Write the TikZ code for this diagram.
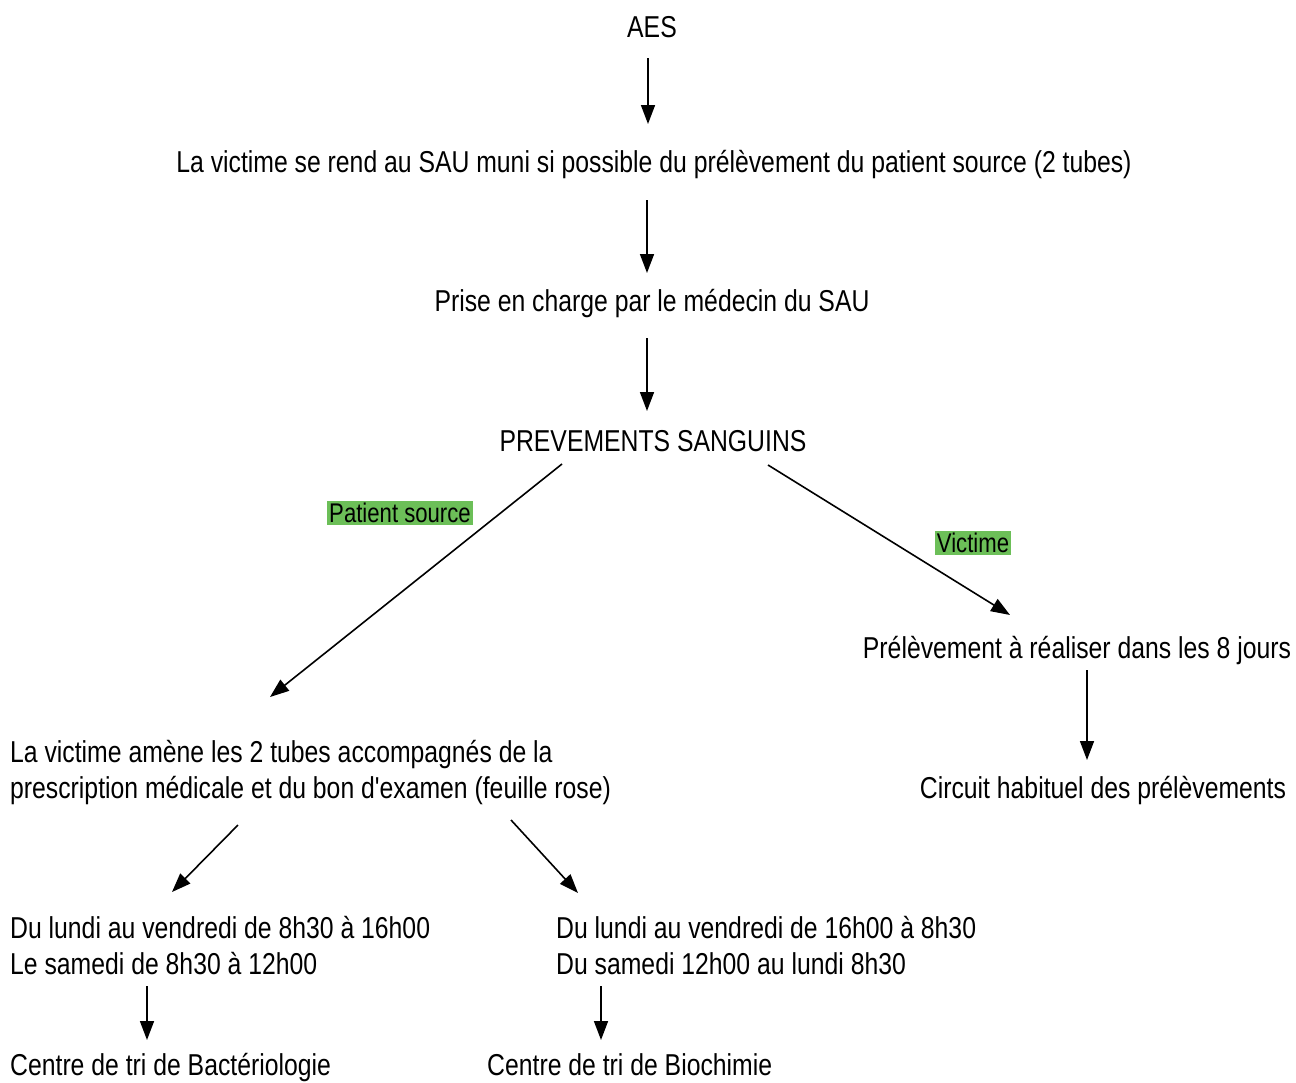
\documentclass[tikz,border=0pt]{standalone}
\usepackage{fontspec}
\setmainfont[FakeStretch=0.82,Ligatures=TeXOff]{Liberation Sans}
\usetikzlibrary{arrows.meta}
\definecolor{hl}{HTML}{6CBF58}
\tikzset{
  txt/.style={inner sep=0pt, font=\fontsize{30.2}{36}\selectfont, anchor=center},
  ltxt/.style={txt, anchor=west, align=left},
  btxt/.style={txt, anchor=base west},
  tag/.style={fill=hl, inner sep=2pt, font=\fontsize{27}{30}\selectfont},
  arr/.style={line width=1.6pt, -{Triangle[length=19pt,width=14pt]}},
}
\begin{document}
\begin{tikzpicture}[x=1pt,y=-1pt]
\useasboundingbox (0,0) rectangle (1296,1082);
\fill[white] (0,0) rectangle (1296,1082);
\node[txt] (aes) at (652,27) {AES};
\node[txt] (vic) at (654,165) {La victime se rend au SAU muni si possible du prélèvement du patient source (2 tubes)};
\node[txt] (prise) at (652,304) {Prise en charge par le médecin du SAU};
\node[txt] (prev) at (653,441) {PREVEMENTS SANGUINS};
\node[tag] (tps) at (400,513) {Patient source};
\node[tag] (tvi) at (973,543) {Victime};
\node[txt] (p8) at (1077,651) {Prélèvement à réaliser dans les 8 jours};
\node[txt] (circ) at (1103,791) {Circuit habituel des prélèvements};
\node[ltxt] (amene) at (10,773) {La victime amène les 2 tubes accompagnés de la\\prescription médicale et du bon d'examen (feuille rose)};
\node[ltxt] (jour) at (10,946) {Du lundi au vendredi de 8h30 à 16h00\\Le samedi de 8h30 à 12h00};
\node[ltxt] (nuit) at (556,946) {Du lundi au vendredi de 16h00 à 8h30\\Du samedi 12h00 au lundi 8h30};
\node[btxt] (bact) at (10,1075) {Centre de tri de Bactériologie};
\node[btxt] (bioc) at (487,1075) {Centre de tri de Biochimie};

\coordinate (a1s) at (648,58);  \coordinate (a1e) at (648,124);
\coordinate (a2s) at (647,200); \coordinate (a2e) at (647,273);
\coordinate (a3s) at (647,338); \coordinate (a3e) at (647,411);
\coordinate (dls) at (562,464); \coordinate (dle) at (270,697);
\coordinate (drs) at (768,465); \coordinate (dre) at (1010,615);
\coordinate (v1s) at (1087,670); \coordinate (v1e) at (1087,760);
\coordinate (b1s) at (238,825); \coordinate (b1e) at (172,892);
\coordinate (b2s) at (511,820); \coordinate (b2e) at (578,893);
\coordinate (c1s) at (147,986); \coordinate (c1e) at (147,1040);
\coordinate (c2s) at (601,986); \coordinate (c2e) at (601,1040);

\draw[arr] (a1s) -- (a1e);
\draw[arr] (a2s) -- (a2e);
\draw[arr] (a3s) -- (a3e);
\draw[arr] (dls) -- (dle);
\draw[arr] (drs) -- (dre);
\draw[arr] (v1s) -- (v1e);
\draw[arr] (b1s) -- (b1e);
\draw[arr] (b2s) -- (b2e);
\draw[arr] (c1s) -- (c1e);
\draw[arr] (c2s) -- (c2e);
\end{tikzpicture}
\end{document}
